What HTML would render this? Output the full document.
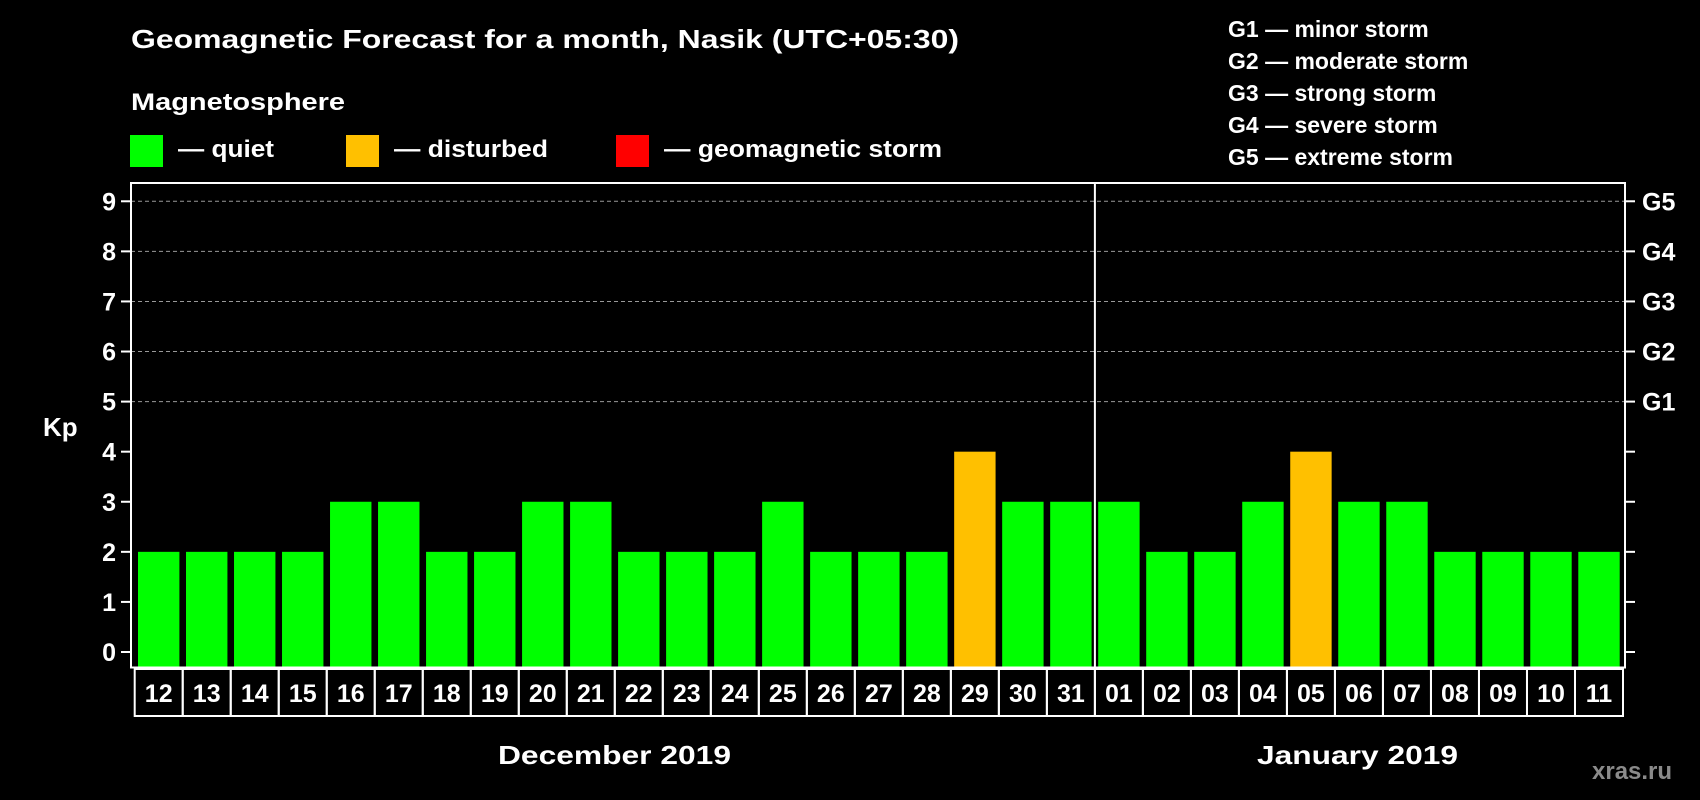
<!DOCTYPE html>
<html><head><meta charset="utf-8"><style>
html,body{margin:0;padding:0;background:#000;}
svg{display:block;font-family:"Liberation Sans",Arial,sans-serif;font-weight:bold;}
</style></head><body>
<svg id="chart" width="1700" height="800" viewBox="0 0 1700 800" xmlns="http://www.w3.org/2000/svg">
<rect width="1700" height="800" fill="#000"/>
<text x="131" y="48" fill="#fff" font-size="26" textLength="828" lengthAdjust="spacingAndGlyphs">Geomagnetic Forecast for a month, Nasik (UTC+05:30)</text>
<text x="131" y="110" fill="#fff" font-size="24" textLength="214" lengthAdjust="spacingAndGlyphs">Magnetosphere</text>
<g>
<rect x="130" y="135" width="33" height="32" fill="#00ff00"/>
<text x="178" y="157" fill="#fff" font-size="24" textLength="96" lengthAdjust="spacingAndGlyphs">— quiet</text></g>
<g>
<rect x="346" y="135" width="33" height="32" fill="#ffc000"/>
<text x="394" y="157" fill="#fff" font-size="24" textLength="154" lengthAdjust="spacingAndGlyphs">— disturbed</text></g>
<g>
<rect x="616" y="135" width="33" height="32" fill="#ff0000"/>
<text x="664" y="157" fill="#fff" font-size="24" textLength="278" lengthAdjust="spacingAndGlyphs">— geomagnetic storm</text></g>
<g fill="#fff" font-size="23">
<text x="1228" y="37">G1 — minor storm</text>
<text x="1228" y="69">G2 — moderate storm</text>
<text x="1228" y="101">G3 — strong storm</text>
<text x="1228" y="133">G4 — severe storm</text>
<text x="1228" y="165">G5 — extreme storm</text>
</g>
<text x="43" y="436" fill="#fff" font-size="26">Kp</text>
<g id="grid"></g><g id="bars"></g><g id="axes"></g><g id="xlabels"></g>
<text x="498" y="764" fill="#fff" font-size="26" textLength="233" lengthAdjust="spacingAndGlyphs">December 2019</text>
<text x="1257" y="764" fill="#fff" font-size="26" textLength="201" lengthAdjust="spacingAndGlyphs">January 2019</text>
<text x="1592" y="779" fill="#8a8a8a" font-size="24">xras.ru</text>
</svg>
<script>
const days = ["12","13","14","15","16","17","18","19","20","21","22","23","24","25","26","27","28","29","30","31","01","02","03","04","05","06","07","08","09","10","11"];
const kpValues = [2,2,2,2,3,3,2,2,3,3,2,2,2,3,2,2,2,4,3,3,3,2,2,3,4,3,3,2,2,2,2];
const yTicks = [0,1,2,3,4,5,6,7,8,9];
const gLabels = ["","","","","","G1","G2","G3","G4","G5"];
const monthSplitIndex = 20;

const NS = "http://www.w3.org/2000/svg";
const L = 131, R = 1625, T = 183, B = 667.5;
const x0 = 134.7, step = (1623 - 134.7) / days.length;
const yScale = v => 652 - v * 50.08;
const xScale = i => x0 + i * step;
function mk(tag, attrs, parent) {
  const e = document.createElementNS(NS, tag);
  for (const k in attrs) e.setAttribute(k, attrs[k]);
  parent.appendChild(e); return e;
}
const grid = document.getElementById("grid"), bars = document.getElementById("bars"),
      axes = document.getElementById("axes"), xl = document.getElementById("xlabels");

yTicks.forEach((v, i) => {
  const y = yScale(v);
  if (gLabels[i]) {
    const g = mk("line", {x1: L, x2: R, y1: y, y2: y, stroke: "#999", "stroke-width": 1, "stroke-dasharray": "4,3"}, grid);
    
    
  }
  const tl = mk("line", {x1: L - 10, x2: L, y1: y, y2: y, stroke: "#fff", "stroke-width": 2}, axes);
  
  
  const tr = mk("line", {x1: R, x2: R + 10, y1: y, y2: y, stroke: "#fff", "stroke-width": 2}, axes);
  
  
  const t = mk("text", {x: 116, y: y + 9, fill: "#fff", "font-size": 25, "text-anchor": "end"}, axes);
  t.textContent = v;
  
  
  if (gLabels[i]) {
    const gt = mk("text", {x: 1642, y: y + 9, fill: "#fff", "font-size": 25}, axes);
    gt.textContent = gLabels[i];
    
    
  }
});

kpValues.forEach((v, i) => {
  const color = v >= 5 ? "#ff0000" : (v >= 4 ? "#ffc000" : "#00ff00");
  const y = yScale(v);
  const b = mk("rect", {x: xScale(i) + 3.3, y: y, width: step - 6.6, height: B - 1 - y, fill: color}, bars);
  
  
  const bx = mk("rect", {x: xScale(i), y: 669, width: step, height: 47, fill: "none", stroke: "#fff", "stroke-width": 2}, xl);
  
  
  const t = mk("text", {x: xScale(i) + step / 2, y: 702, fill: "#fff", "font-size": 25, "text-anchor": "middle"}, xl);
  t.textContent = days[i];
  
  
});

const frame = mk("rect", {x: L, y: T, width: R - L, height: B - T, fill: "none", stroke: "#fff", "stroke-width": 2}, axes);


const div = mk("line", {x1: xScale(monthSplitIndex), x2: xScale(monthSplitIndex), y1: T, y2: B, stroke: "#fff", "stroke-width": 2}, axes);


</script>
</body></html>
